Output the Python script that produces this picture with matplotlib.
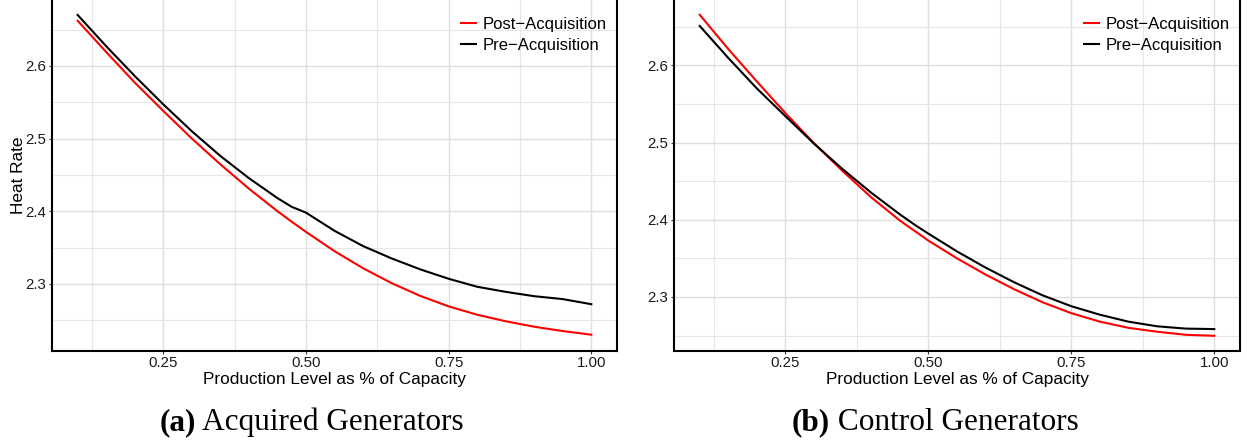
import matplotlib
matplotlib.use('Agg')
import matplotlib.pyplot as plt
from matplotlib.ticker import MultipleLocator

plt.rcParams['font.family'] = ['Liberation Sans', 'DejaVu Sans']

# production level (share of capacity)
nivel = [0.10, 0.15, 0.20, 0.25, 0.30, 0.35, 0.40, 0.45, 0.475, 0.50, 0.55,
         0.60, 0.65, 0.70, 0.75, 0.80, 0.85, 0.90, 0.95, 1.00]

# (a) acquired generators
acq_post = [2.662, 2.619, 2.577, 2.538, 2.500, 2.4645, 2.431, 2.400, 2.3855, 2.3715, 2.345,
            2.3215, 2.301, 2.2835, 2.269, 2.2575, 2.2485, 2.241, 2.235, 2.230]
acq_pre = [2.670, 2.627, 2.586, 2.547, 2.510, 2.476, 2.4455, 2.418, 2.406, 2.398, 2.373,
           2.352, 2.335, 2.320, 2.307, 2.296, 2.289, 2.283, 2.279, 2.272]

# (b) control generators
ctl_post = [2.6655, 2.621, 2.579, 2.538, 2.499, 2.463, 2.429, 2.399, 2.386, 2.373, 2.350,
            2.329, 2.310, 2.293, 2.279, 2.268, 2.260, 2.255, 2.251, 2.2497]
ctl_pre = [2.651, 2.6095, 2.570, 2.534, 2.4985, 2.4655, 2.435, 2.407, 2.394, 2.382, 2.359,
           2.338, 2.319, 2.302, 2.288, 2.277, 2.268, 2.262, 2.259, 2.2584]

W, H = 1247, 440
fig = plt.figure(figsize=(W / 100, H / 100), dpi=100)

def caja(x0, x1, y_top, y_bot):
    # pixel box -> figure fraction
    return [x0 / W, 1 - y_bot / H, (x1 - x0) / W, (y_bot - y_top) / H]

ax1 = fig.add_axes(caja(52, 617, -1, 350.7))
ax2 = fig.add_axes(caja(674, 1240, -1, 350.7))

paneles = [
    (ax1, acq_post, acq_pre, (2.208, 2.692)),
    (ax2, ctl_post, ctl_pre, (2.2304, 2.6859)),
]

for ax, post, pre, ylim in paneles:
    ax.plot(nivel, post, color='#ff0000', lw=1.5, label='Post\u2212Acquisition', zorder=3)
    ax.plot(nivel, pre, color='black', lw=1.5, label='Pre\u2212Acquisition', zorder=3)
    ax.set_xlim(0.055, 1.045)
    ax.set_ylim(*ylim)
    ax.xaxis.set_minor_locator(MultipleLocator(0.125))
    ax.yaxis.set_minor_locator(MultipleLocator(0.05))
    ax.set_xticks([0.25, 0.50, 0.75, 1.00])
    ax.set_xticklabels(['0.25', '0.50', '0.75', '1.00'])
    ax.set_yticks([2.3, 2.4, 2.5, 2.6])
    ax.set_yticklabels(['2.3', '2.4', '2.5', '2.6'])
    ax.grid(True, which='major', color='#dedede', lw=1.0, zorder=0)
    ax.grid(True, which='minor', color='#e6e6e6', lw=0.8, zorder=0)
    ax.set_axisbelow(True)
    ax.tick_params(which='major', length=2.5, width=0.8, color='#333333',
                   labelsize=10.8, labelcolor='#1a1a1a', pad=1.5)
    ax.tick_params(which='minor', length=0)
    for lado in ['left', 'bottom', 'right']:
        ax.spines[lado].set_linewidth(1.5)
        ax.spines[lado].set_color('black')
    ax.spines['top'].set_visible(False)
    ax.set_xlabel('Production Level as % of Capacity', fontsize=12.4, labelpad=1)
    ax.legend(loc='upper right', bbox_to_anchor=(0.982, 0.948), frameon=False,
              fontsize=12, handlelength=0.9, handletextpad=0.4,
              labelspacing=0.33, borderaxespad=0, borderpad=0)

ax1.set_ylabel('Heat Rate', fontsize=12.4, labelpad=0)

# subfigure captions: bold tag + regular text, centred on each half
fig.canvas.draw()
rend = fig.canvas.get_renderer()
for cx, tag, txt in [(312, '(a)', 'Acquired Generators'),
                     (935, '(b)', 'Control Generators')]:
    t1 = fig.text(0, 0, tag, fontsize=22.5, fontweight='bold',
                  family=['Liberation Serif', 'DejaVu Serif'])
    t2 = fig.text(0, 0, ' ' + txt, fontsize=22.5,
                  family=['Liberation Serif', 'DejaVu Serif'])
    w1 = t1.get_window_extent(rend).width
    w2 = t2.get_window_extent(rend).width
    x0 = cx - (w1 + w2) / 2
    yb = 1 - 430 / H
    t1.set_position((x0 / W, yb))
    t2.set_position(((x0 + w1) / W, yb))
    t1.set_va('baseline')
    t2.set_va('baseline')

fig.savefig('out.png', dpi=100, facecolor='white')
